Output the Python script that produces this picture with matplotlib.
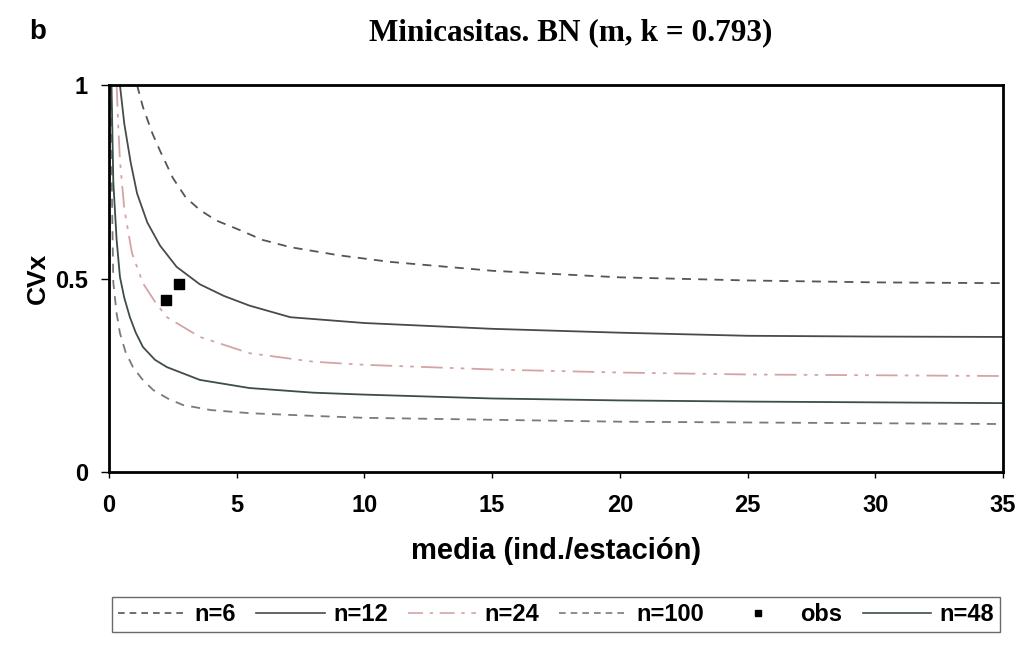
import matplotlib
matplotlib.use("Agg")
import matplotlib.pyplot as plt
from matplotlib.lines import Line2D

# ---- data ----
n6_m = [1.1, 1.33, 1.7, 2.0, 2.5, 3.0, 3.56, 4.2, 5.13, 6.0, 7.1, 9, 11, 15, 20, 25, 30, 35]
n6_cv = [1.0, 0.943, 0.875, 0.83, 0.76, 0.71, 0.677, 0.65, 0.625, 0.60, 0.581, 0.56, 0.543, 0.52, 0.503, 0.495, 0.49, 0.488]

n12_m = [0.43, 0.6, 0.85, 1.1, 1.5, 2.0, 2.65, 3.56, 4.5, 5.5, 7.1, 10, 15, 20, 25, 30, 35]
n12_cv = [1.0, 0.9, 0.8, 0.72, 0.645, 0.585, 0.53, 0.485, 0.455, 0.43, 0.40, 0.385, 0.37, 0.36, 0.352, 0.35, 0.349]

n24_m = [0.3, 0.36, 0.43, 0.6, 0.9, 1.33, 1.8, 2.27, 3.56, 5.5, 8, 10, 15, 20, 25, 30, 35]
n24_cv = [1.0, 0.9, 0.806, 0.68, 0.566, 0.488, 0.44, 0.40, 0.349, 0.307, 0.285, 0.277, 0.265, 0.257, 0.252, 0.25, 0.248]

n48_m = [0.1, 0.17, 0.3, 0.43, 0.6, 0.82, 1.05, 1.33, 1.8, 2.27, 3.56, 5.5, 8, 10, 15, 20, 25, 30, 35]
n48_cv = [1.0, 0.75, 0.6, 0.504, 0.45, 0.40, 0.36, 0.323, 0.29, 0.271, 0.238, 0.217, 0.205, 0.2, 0.19, 0.185, 0.182, 0.18, 0.178]

n100_m = [0.08, 0.12, 0.17, 0.3, 0.43, 0.65, 0.94, 1.3, 1.73, 2.3, 2.9, 4.0, 5.5, 8, 10, 15, 20, 25, 30, 35]
n100_cv = [1.0, 0.7, 0.49, 0.41, 0.359, 0.31, 0.271, 0.24, 0.212, 0.19, 0.173, 0.16, 0.152, 0.145, 0.14, 0.135, 0.13, 0.128, 0.126, 0.124]

obs_m = [2.23, 2.75]
obs_cv = [0.444, 0.486]

x_ticks = [0, 5, 10, 15, 20, 25, 30, 35]
y_ticks = [0, 0.5, 1]
y_tick_labels = ["0", "0.5", "1"]

plt.rcParams['font.family'] = ['Liberation Sans', 'DejaVu Sans']

fig = plt.figure(figsize=(10.25, 6.45), dpi=100)
ax = fig.add_axes([0.1063, 0.2682, 0.8722, 0.6000])

c6 = '#555555'
c12 = '#4a4a4a'
c24 = '#d4a4a4'
c100 = '#7a7a7a'
c48 = '#3d4d48'

ax.plot(n6_m, n6_cv, color=c6, lw=1.3, ls=(0, (5, 4)))
ax.plot(n12_m, n12_cv, color=c12, lw=1.3, ls='-')
ax.plot(n24_m, n24_cv, color=c24, lw=1.3, ls=(0, (12, 4, 2, 4, 2, 4)))
ax.plot(n100_m, n100_cv, color=c100, lw=1.3, ls=(0, (5, 4)))
ax.plot(n48_m, n48_cv, color=c48, lw=1.3, ls='-')
ax.scatter(obs_m, obs_cv, marker='s', s=55, color='black', zorder=5)

ax.set_xlim(0, 35)
ax.set_ylim(0, 1)
ax.set_xticks(x_ticks)
ax.set_yticks(y_ticks)
ax.set_yticklabels(y_tick_labels)
for sp in ax.spines.values():
    sp.set_linewidth(2)
    sp.set_color('black')
ax.tick_params(axis='x', direction='out', length=4, width=1, labelsize=17, pad=12)
ax.tick_params(axis='y', direction='out', length=6, width=1, labelsize=17, pad=9)
for lbl in ax.get_xticklabels() + ax.get_yticklabels():
    lbl.set_fontweight('bold')

ax.set_xlabel('media (ind./estación)', fontsize=21, fontweight='bold', labelpad=14)
ax.set_ylabel('CVx', fontsize=19, fontweight='bold', labelpad=4)

fig.text(0.557, 0.950, 'Minicasitas. BN (m, k = 0.793)', ha='center', va='center',
         fontsize=22.5, fontweight='bold', family=['Liberation Serif', 'DejaVu Serif'])
fig.text(0.029, 0.950, 'b', ha='left', va='center', fontsize=20, fontweight='bold')

handles = [
    Line2D([], [], color=c6, lw=1.2, ls=(0, (4, 3))),
    Line2D([], [], color=c12, lw=1.2, ls='-'),
    Line2D([], [], color=c24, lw=1.2, ls=(0, (9, 4, 2, 4))),
    Line2D([], [], color=c100, lw=1.2, ls=(0, (4, 3))),
    Line2D([], [], color='black', marker='s', ls='none', markersize=5),
    Line2D([], [], color=c48, lw=1.2, ls='-'),
]
labels = ['n=6', 'n=12', 'n=24', 'n=100', 'obs', 'n=48']
leg = fig.legend(handles, labels, loc='center', ncol=6,
                 bbox_to_anchor=(0.5424, 0.0473),
                 fontsize=17, frameon=True, fancybox=False, handlelength=2.9,
                 handletextpad=0.35, columnspacing=0.85, borderpad=0.25,
                 borderaxespad=0)
leg.get_frame().set_edgecolor('#444444')
leg.get_frame().set_linewidth(1.0)
for t in leg.get_texts():
    t.set_fontweight('bold')

fig.savefig('out.png', dpi=100)
